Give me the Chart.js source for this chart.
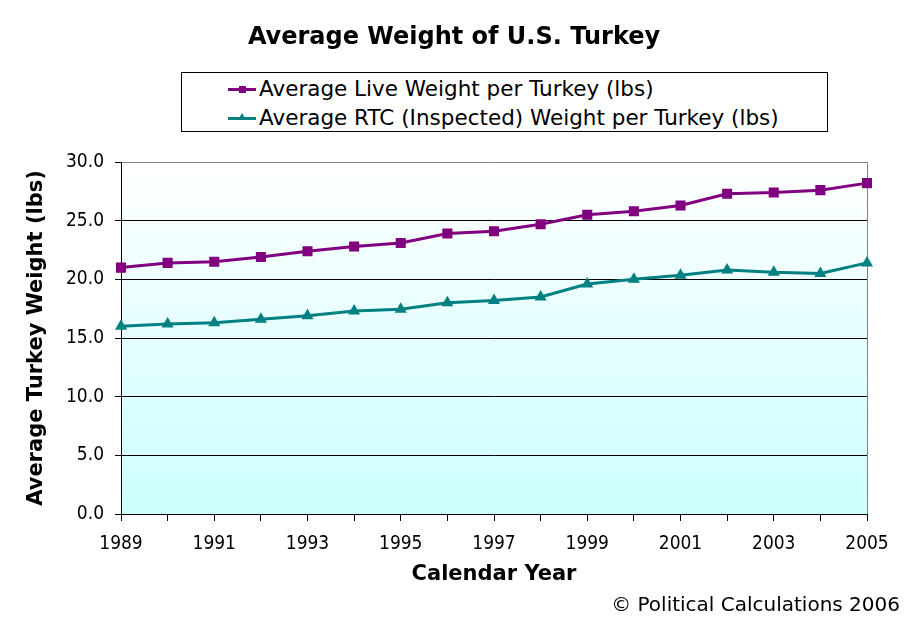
<!DOCTYPE html>
<html>
<head>
<meta charset="utf-8">
<title>Average Weight of U.S. Turkey</title>
<script src="https://cdn.jsdelivr.net/npm/chart.js@4"></script>
<style>
  html, body { margin: 0; padding: 0; background: #fff; }
  #wrap { position: relative; width: 911px; height: 623px; }
  #legend {
    position: absolute; left: 181px; top: 72px; width: 645px; height: 58px;
    border: 1px solid #000; background: #fff;
    font-family: "DejaVu Sans", sans-serif; font-size: 21.5px; color: #000;
  }
  .row { position: absolute; left: 46px; height: 26px; line-height: 26px; white-space: nowrap; }
  .sample { position: absolute; left: 0; top: 12px; width: 28px; height: 3px; }
  .mk { position: absolute; left: 11px; top: -2px; width: 7px; height: 7px; }
  .tri { position: absolute; left: 10px; top: -4px; width: 0; height: 0;
         border-left: 4px solid transparent; border-right: 4px solid transparent; border-bottom: 7px solid; }
  .txt { position: absolute; left: 31px; top: 0; }
</style>
</head>
<body>
<div id="wrap">
  <canvas id="chart" width="911" height="623"></canvas>
  <div id="legend"></div>
</div>
<script>
"use strict";

/* ===== DADOS ===== */
const anos = ["1989", "1990", "1991", "1992", "1993", "1994", "1995", "1996", "1997",
              "1998", "1999", "2000", "2001", "2002", "2003", "2004", "2005"];
const pesoVivo = [21.0, 21.4, 21.5, 21.9, 22.4, 22.8, 23.1, 23.9, 24.1,
                  24.7, 25.5, 25.8, 26.3, 27.3, 27.4, 27.6, 28.2];
const pesoRTC = [16.0, 16.2, 16.3, 16.6, 16.9, 17.3, 17.45, 18.0, 18.2,
                 18.5, 19.6, 20.0, 20.35, 20.8, 20.6, 20.5, 21.4];
const rotulos = ["Average Live Weight per Turkey (lbs)",
                 "Average RTC (Inspected) Weight per Turkey (lbs)"];
const ticksY = [0, 5, 10, 15, 20, 25, 30];

const FONTE = "DejaVu Sans";
const FONTE_TICKS = "DejaVu Sans Condensed";
const ROXO = "#800080";
const VERDE = "#008080";

// fundo em degradê e borda cinza da área do gráfico
const fundoPlugin = {
    id: "fundo",
    beforeDraw(chart) {
        const { ctx, chartArea: a } = chart;
        const g = ctx.createLinearGradient(0, a.top, 0, a.bottom);
        g.addColorStop(0, "#ffffff");
        g.addColorStop(1, "#ccffff");
        ctx.save();
        ctx.fillStyle = g;
        ctx.fillRect(a.left, a.top, a.right - a.left, a.bottom - a.top);
        ctx.restore();
    },
    beforeDatasetsDraw(chart) {
        const { ctx, chartArea: a } = chart;
        ctx.save();
        ctx.strokeStyle = "#808080";
        ctx.lineWidth = 1;
        ctx.beginPath();
        ctx.moveTo(Math.round(a.right) + 0.5, a.top);
        ctx.lineTo(Math.round(a.right) + 0.5, a.bottom);
        ctx.stroke();
        ctx.restore();
    }
};

const chart = new Chart(document.getElementById("chart"), {
    type: "line",
    data: {
        labels: anos,
        datasets: [
            {
                label: rotulos[0],
                data: pesoVivo,
                borderColor: ROXO,
                backgroundColor: ROXO,
                borderWidth: 3,
                pointStyle: "rect",
                pointRadius: 5,
                tension: 0
            },
            {
                label: rotulos[1],
                data: pesoRTC,
                borderColor: VERDE,
                backgroundColor: VERDE,
                borderWidth: 3,
                pointStyle: "triangle",
                pointRadius: 4,
                tension: 0
            }
        ]
    },
    options: {
        responsive: false,
        animation: false,
        layout: { padding: { left: 8, right: 11, top: 0, bottom: 0 } },
        plugins: {
            legend: { display: false },
            tooltip: { enabled: false },
            title: {
                display: true,
                text: "Average Weight of U.S. Turkey",
                color: "#000",
                font: { family: FONTE, size: 24, weight: "bold" },
                padding: { top: 23.6, bottom: 109.6 }
            },
            subtitle: {
                display: true,
                position: "bottom",
                align: "end",
                text: "\u00a9 Political Calculations 2006",
                color: "#000",
                font: { family: FONTE, size: 20 },
                padding: { top: 0, bottom: 5 }
            }
        },
        scales: {
            x: {
                offset: false,
                grid: { drawOnChartArea: false, drawTicks: true, tickLength: 7, color: "#000" },
                border: { color: "#000", width: 1 },
                ticks: {
                    autoSkip: false,
                    maxRotation: 0,
                    padding: 12,
                    color: "#000",
                    font: { family: FONTE_TICKS, size: 19 },
                    callback: (v, i) => i % 2 === 0 ? anos[i] : ""
                },
                title: {
                    display: true,
                    text: "Calendar Year",
                    color: "#000",
                    font: { family: FONTE, size: 21, weight: "bold" },
                    padding: { top: 4, bottom: 6.4 }
                },
                afterFit(scale) {
                    scale.height = 80;
                    scale.paddingRight = 44;
                }
            },
            y: {
                min: ticksY[0],
                max: ticksY[ticksY.length - 1],
                grid: {
                    color: c => c.tick && c.tick.value === 30 ? "#808080" : "#000",
                    tickColor: "#000",
                    tickLength: 6
                },
                border: { color: "#000", width: 1 },
                afterBuildTicks(scale) { scale.ticks = ticksY.map(v => ({ value: v })); },
                ticks: {
                    padding: 11,
                    color: "#000",
                    font: { family: FONTE_TICKS, size: 19 },
                    callback: v => Number(v).toFixed(1)
                },
                title: {
                    display: true,
                    text: "Average Turkey Weight (lbs)",
                    color: "#000",
                    font: { family: FONTE, size: 21, weight: "bold" },
                    padding: { top: 16, bottom: 10 }
                },
                afterFit(scale) { scale.width = 113; }
            }
        }
    },
    plugins: [fundoPlugin]
});

/* ===== LEGENDA ===== */
const legenda = document.getElementById("legend");
chart.data.datasets.forEach((ds, i) => {
    const row = document.createElement("div");
    row.className = "row";
    row.style.top = (3 + i * 29) + "px";
    const marcador = ds.pointStyle === "triangle"
        ? `<span class="tri" style="border-bottom-color:${ds.borderColor}"></span>`
        : `<span class="mk" style="background:${ds.borderColor}"></span>`;
    row.innerHTML = `<span class="sample" style="background:${ds.borderColor}">${marcador}</span>` +
                    `<span class="txt">${ds.label}</span>`;
    legenda.appendChild(row);
});
</script>
</body>
</html>
